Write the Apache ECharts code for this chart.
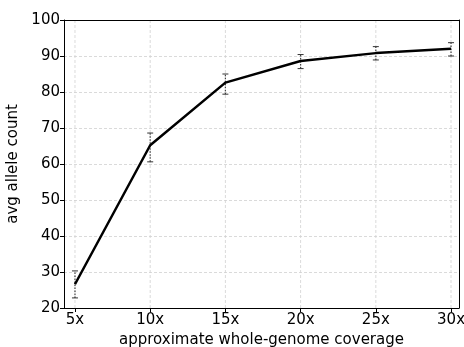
<!DOCTYPE html>
<html><head><meta charset="utf-8">
<script src="https://cdn.jsdelivr.net/npm/echarts@6/dist/echarts.min.js"></script>
<style>html,body{margin:0;padding:0;background:#fff}#c{width:464px;height:347px}</style>
</head><body><div id="c"></div>
<script>
var coverage = [5, 10, 15, 20, 25, 30];
var avgAllele = [26.6, 65.2, 82.6, 88.6, 90.8, 92.0];
var errLow = [22.8, 60.6, 79.4, 86.5, 88.9, 90.0];
var errHigh = [30.3, 68.6, 85.0, 90.4, 92.6, 93.7];
var yTicks = [20, 30, 40, 50, 60, 70, 80, 90, 100];

var font = 'DejaVu Sans';
var fs = 15;
var chart = echarts.init(document.getElementById('c'), null, {renderer: 'canvas'});
var lineData = coverage.map(function (c, i) { return [c, avgAllele[i]]; });
var errData = coverage.map(function (c, i) { return [c, errLow[i], errHigh[i]]; });

chart.setOption({
  animation: false,
  grid: {left: 64, right: 5, top: 20, bottom: 39, outerBoundsMode: 'none', containLabel: false},
  xAxis: [{
    type: 'value', min: 4.27, max: 30.53,
    name: 'approximate whole-genome coverage', nameLocation: 'middle', nameGap: 25,
    nameTextStyle: {fontFamily: font, fontSize: fs, color: '#000'},
    axisLine: {show: true, onZero: false, lineStyle: {color: '#000', width: 1}},
    axisTick: {show: true, length: 4, customValues: coverage, lineStyle: {color: '#000'}},
    axisLabel: {customValues: coverage, formatter: function (v) { return v + 'x'; }, fontFamily: font, fontSize: fs, color: '#000', margin: 5},
    splitLine: {show: false}, z: 20
  }, {
    type: 'value', min: 4.27, max: 30.53, position: 'top',
    axisLine: {show: true, onZero: false, lineStyle: {color: '#000', width: 1}},
    axisTick: {show: false}, axisLabel: {show: false}, splitLine: {show: false}, z: 20
  }],
  yAxis: [{
    type: 'value', min: 20, max: 100, interval: 10,
    name: 'avg allele count', nameLocation: 'middle', nameGap: 33,
    nameTextStyle: {fontFamily: font, fontSize: fs, color: '#000'},
    axisLine: {show: true, lineStyle: {color: '#000', width: 1}},
    axisTick: {show: true, length: 4, lineStyle: {color: '#000'}},
    axisLabel: {fontFamily: font, fontSize: fs, color: '#000', margin: 4},
    splitLine: {show: true, lineStyle: {color: '#d0d0d0', type: [3, 2], width: 0.8}}, z: 0
  }, {
    type: 'value', min: 20, max: 100, interval: 10, position: 'right',
    axisLine: {show: true, onZero: false, lineStyle: {color: '#000', width: 1}},
    axisTick: {show: false}, axisLabel: {show: false}, splitLine: {show: false}, z: 20
  }],
  series: [
    {
      type: 'custom', z: 1, silent: true,
      data: coverage.map(function (c) { return [c, 20, 100]; }),
      renderItem: function (params, api) {
        var top = api.coord([api.value(0), api.value(2)]);
        var bot = api.coord([api.value(0), api.value(1)]);
        return {type: 'line', shape: {x1: top[0], y1: top[1], x2: bot[0], y2: bot[1]},
          style: {stroke: '#d0d0d0', lineWidth: 0.8, lineDash: [3, 2]}};
      }
    },
    {
      type: 'custom', z: 8, silent: true,
      data: errData,
      renderItem: function (params, api) {
        var lo = api.coord([api.value(0), api.value(1)]);
        var hi = api.coord([api.value(0), api.value(2)]);
        var w = 3;
        return {type: 'group', children: [
          {type: 'line', shape: {x1: lo[0], y1: lo[1], x2: hi[0], y2: hi[1]}, style: {stroke: '#444', lineWidth: 1.2, lineDash: [1.5, 1.5]}},
          {type: 'line', shape: {x1: lo[0] - w, y1: lo[1], x2: lo[0] + w, y2: lo[1]}, style: {stroke: '#333', lineWidth: 1}},
          {type: 'line', shape: {x1: hi[0] - w, y1: hi[1], x2: hi[0] + w, y2: hi[1]}, style: {stroke: '#333', lineWidth: 1}}
        ]};
      }
    },
    {
      type: 'line', z: 10, data: lineData, symbol: 'none',
      lineStyle: {color: '#000', width: 2.5}
    }
  ]
});
</script></body></html>
